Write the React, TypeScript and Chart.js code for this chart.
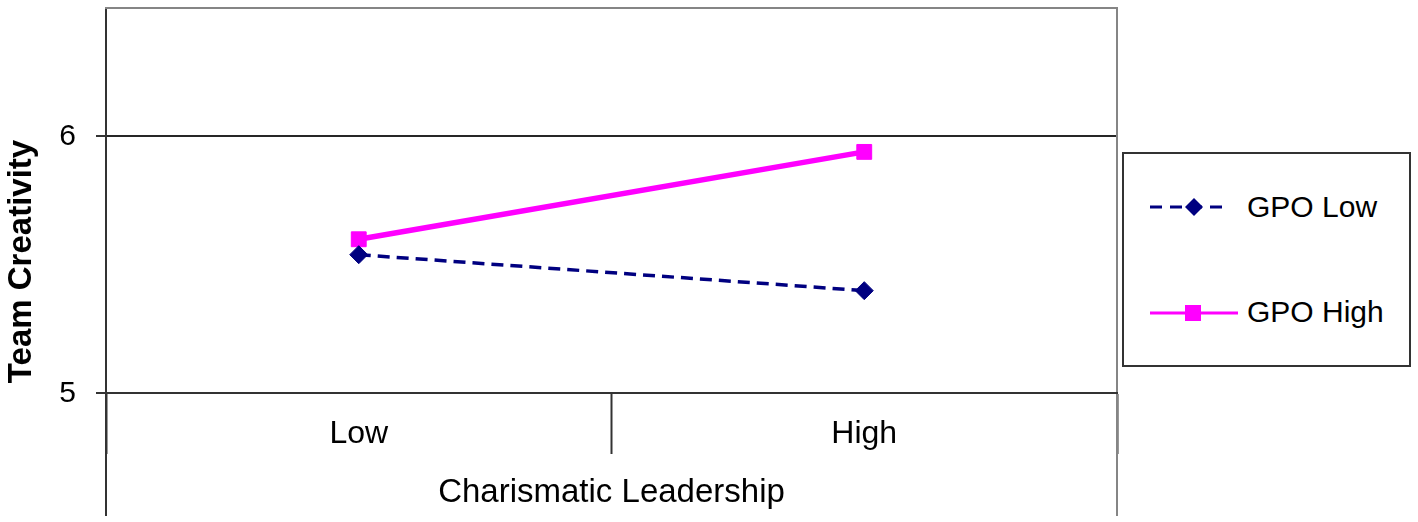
import React, { useEffect, useRef } from 'react';
import { Chart, registerables } from 'chart.js';

Chart.register(...registerables);

const categories = ['Low', 'High'];
const seriesNames = ['GPO Low', 'GPO High'];
const gpoLowValues = [5.54, 5.4];
const gpoHighValues = [5.6, 5.94];
const yTickValues = [5, 6];
const yMin = 4.527;
const yMax = 6.5;
const xAxisAt = 5;
const yTitle = 'Team Creativity';
const xTitle = 'Charismatic Leadership';

const FONT = '"Liberation Sans", Arial, Helvetica, sans-serif';
const NAVY = '#000080';
const MAGENTA = '#ff00ff';
const AXIS = '#333333';
const FRAME = '#858585';

export default function App() {
  const ref = useRef<HTMLCanvasElement>(null);

  useEffect(() => {
    const chart = new Chart(ref.current as HTMLCanvasElement, {
      type: 'line',
      data: {
        labels: categories,
        datasets: [
          {
            label: seriesNames[0],
            data: gpoLowValues,
            xAxisID: 'x',
            yAxisID: 'y',
            borderColor: NAVY,
            backgroundColor: NAVY,
            borderWidth: 3.5,
            borderDash: [12, 7],
            pointStyle: 'rectRot',
            pointRadius: 9,
            pointBorderWidth: 1,
            pointBackgroundColor: NAVY,
            pointBorderColor: NAVY,
            tension: 0,
            fill: false,
          },
          {
            label: seriesNames[1],
            data: gpoHighValues,
            xAxisID: 'x',
            yAxisID: 'y',
            borderColor: MAGENTA,
            backgroundColor: MAGENTA,
            borderWidth: 5.5,
            pointStyle: 'rect',
            pointRadius: 10.5,
            pointBorderWidth: 1,
            pointBackgroundColor: MAGENTA,
            pointBorderColor: MAGENTA,
            tension: 0,
            fill: false,
          },
        ],
      },
      options: {
        animation: false,
        responsive: false,
        maintainAspectRatio: false,
        layout: { autoPadding: false, padding: { left: 0, top: 8, right: 301, bottom: 7 } },
        plugins: {
          legend: { display: false },
          tooltip: { enabled: false },
        },
        scales: {
          y: {
            type: 'linear',
            position: 'left',
            min: yMin,
            max: yMax,
            afterBuildTicks: (s: any) => {
              s.ticks = yTickValues.map((v) => ({ value: v }));
            },
            afterFit: (s: any) => {
              s.width = 106;
              s.paddingTop = 0;
              s.paddingBottom = 0;
            },
            grid: {
              color: '#262626',
              lineWidth: 2,
              drawTicks: true,
              tickLength: 10,
              tickColor: AXIS,
              tickWidth: 2,
            },
            border: { display: true, color: AXIS, width: 2 },
            ticks: {
              font: { family: FONT, size: 30 },
              color: '#000',
              padding: 20,
            },
            title: {
              display: true,
              text: yTitle,
              color: '#000',
              font: { family: FONT, size: 33, weight: 'bold' },
              padding: { top: 2, bottom: 0 },
            },
          },
          yRight: {
            type: 'linear',
            position: 'right',
            display: true,
            min: yMin,
            max: yMax,
            afterFit: (s: any) => {
              s.width = 0;
              s.paddingTop = 0;
              s.paddingBottom = 0;
            },
            grid: { display: false, drawTicks: false },
            ticks: { display: false },
            border: { display: true, color: FRAME, width: 2 },
          },
          x: {
            type: 'category',
            position: { y: xAxisAt },
            offset: true,
            afterFit: (s: any) => {
              s.height = 119;
              s.paddingLeft = 0;
              s.paddingRight = 0;
            },
            grid: {
              offset: true,
              drawOnChartArea: false,
              drawTicks: true,
              tickLength: 60,
              tickColor: AXIS,
              tickWidth: 2,
            },
            border: { display: true, color: AXIS, width: 2 },
            ticks: {
              font: { family: FONT, size: 32 },
              color: '#000',
              padding: -38,
              maxRotation: 0,
            },
            title: {
              display: true,
              text: xTitle,
              color: '#000',
              font: { family: FONT, size: 33 },
              padding: { top: 0, bottom: 0 },
            },
          },
          xTop: {
            type: 'category',
            position: 'top',
            display: true,
            afterFit: (s: any) => {
              s.height = 0;
              s.paddingLeft = 0;
              s.paddingRight = 0;
            },
            grid: { display: false, drawTicks: false },
            ticks: { display: false },
            border: { display: true, color: FRAME, width: 2 },
          },
        },
      } as any,
    });
    return () => chart.destroy();
  }, []);

  const textStyle: React.CSSProperties = {
    position: 'absolute',
    left: 1247,
    fontFamily: FONT,
    fontSize: 30,
    lineHeight: '30px',
    color: '#000',
    whiteSpace: 'nowrap',
  };

  return (
    <div
      style={{
        position: 'fixed',
        left: 0,
        top: 0,
        width: 1418,
        height: 522,
        overflow: 'hidden',
        background: '#fff',
      }}
    >
      <canvas
        ref={ref}
        width={1418}
        height={522}
        style={{ position: 'absolute', left: 0, top: 0, width: 1418, height: 522 }}
      />
      <div
        style={{
          position: 'absolute',
          left: 1122,
          top: 152,
          width: 289,
          height: 215,
          border: '2px solid #333',
          boxSizing: 'border-box',
          background: '#fff',
        }}
      />
      <svg style={{ position: 'absolute', left: 1148, top: 197 }} width={92} height={20}>
        <line x1={2} y1={10} x2={82} y2={10} stroke={NAVY} strokeWidth={3} strokeDasharray="12 8" />
        <polygon points="37,10 46,1 55,10 46,19" fill={NAVY} />
      </svg>
      <span style={{ ...textStyle, top: 192 }}>{seriesNames[0]}</span>
      <svg style={{ position: 'absolute', left: 1148, top: 303 }} width={92} height={20}>
        <line x1={2} y1={10} x2={90} y2={10} stroke={MAGENTA} strokeWidth={3} />
        <rect x={37} y={2} width={16} height={16} fill={MAGENTA} />
      </svg>
      <span style={{ ...textStyle, top: 297 }}>{seriesNames[1]}</span>
    </div>
  );
}
